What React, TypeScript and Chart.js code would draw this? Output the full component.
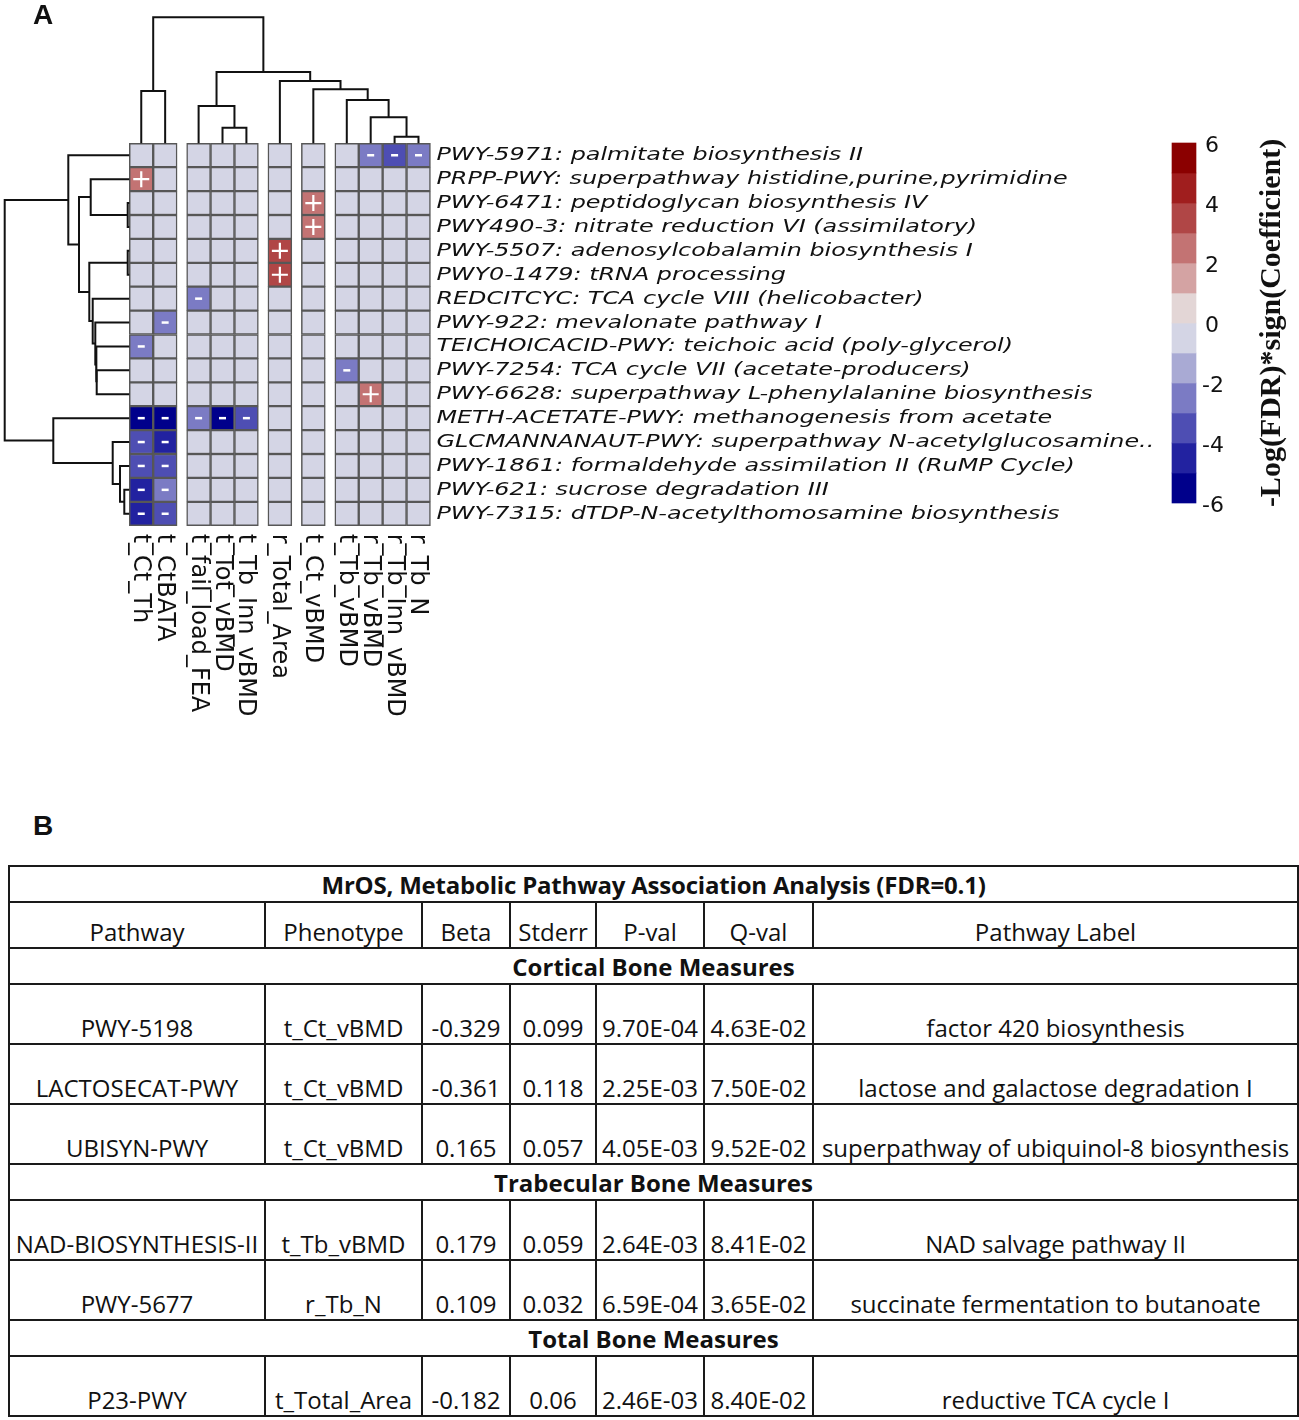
import React, { useEffect, useRef } from 'react';
import { Chart, registerables } from 'chart.js';

Chart.register(...registerables);

// ---------------- Panel A data ----------------
const columnLabels = [
  't_Ct_Th', 't_CtBATA', 't_fail_load_FEA', 't_Tot_vBMD', 't_Tb_Inn_vBMD',
  'r_Total_Area', 't_Ct_vBMD', 't_Tb_vBMD', 'r_Tb_vBMD', 'r_Tb_Inn_vBMD', 'r_Tb_N',
];
const columnGroups = [0, 0, 1, 1, 1, 2, 3, 4, 4, 4, 4];

const rowLabels = [
  'PWY-5971: palmitate biosynthesis II',
  'PRPP-PWY: superpathway histidine,purine,pyrimidine',
  'PWY-6471: peptidoglycan biosynthesis IV',
  'PWY490-3: nitrate reduction VI (assimilatory)',
  'PWY-5507: adenosylcobalamin biosynthesis I',
  'PWY0-1479: tRNA processing',
  'REDCITCYC: TCA cycle VIII (helicobacter)',
  'PWY-922: mevalonate pathway I',
  'TEICHOICACID-PWY: teichoic acid (poly-glycerol)',
  'PWY-7254: TCA cycle VII (acetate-producers)',
  'PWY-6628: superpathway L-phenylalanine biosynthesis',
  'METH-ACETATE-PWY: methanogenesis from acetate',
  'GLCMANNANAUT-PWY: superpathway N-acetylglucosamine..',
  'PWY-1861: formaldehyde assimilation II (RuMP Cycle)',
  'PWY-621: sucrose degradation III',
  'PWY-7315: dTDP-N-acetylthomosamine biosynthesis',
];

// -Log(FDR)*sign(Coefficient); 0 = not significant
const heatValues = [
  [0, 0, 0, 0, 0, 0, 0, 0, -2.5, -3.5, -2.5],
  [2.5, 0, 0, 0, 0, 0, 0, 0, 0, 0, 0],
  [0, 0, 0, 0, 0, 0, 2.5, 0, 0, 0, 0],
  [0, 0, 0, 0, 0, 0, 2.5, 0, 0, 0, 0],
  [0, 0, 0, 0, 0, 3.5, 0, 0, 0, 0, 0],
  [0, 0, 0, 0, 0, 3.5, 0, 0, 0, 0, 0],
  [0, 0, -2.5, 0, 0, 0, 0, 0, 0, 0, 0],
  [0, -2.5, 0, 0, 0, 0, 0, 0, 0, 0, 0],
  [-2.5, 0, 0, 0, 0, 0, 0, 0, 0, 0, 0],
  [0, 0, 0, 0, 0, 0, 0, -2.5, 0, 0, 0],
  [0, 0, 0, 0, 0, 0, 0, 0, 2.5, 0, 0],
  [-5.5, -5.5, -2.5, -5.5, -3.5, 0, 0, 0, 0, 0, 0],
  [-3.5, -4.5, 0, 0, 0, 0, 0, 0, 0, 0, 0],
  [-3.5, -3.5, 0, 0, 0, 0, 0, 0, 0, 0, 0],
  [-4.5, -2.5, 0, 0, 0, 0, 0, 0, 0, 0, 0],
  [-4.5, -3.5, 0, 0, 0, 0, 0, 0, 0, 0, 0],
];

// column dendrogram: [childA, childB, height]; ids < 11 are leaves
const columnLinkage: [number, number, number][] = [
  [3, 4, 15.6],
  [9, 10, 6.6],
  [8, 12, 26],
  [2, 11, 37.3],
  [7, 13, 43.3],
  [0, 1, 52.3],
  [6, 15, 54],
  [5, 17, 62.3],
  [14, 18, 71.3],
  [16, 19, 126],
];

// row dendrogram: ids < 16 are leaves
const rowLinkage: [number, number, number][] = [
  [2, 3, 1.6],
  [4, 5, 1.6],
  [14, 15, 5],
  [13, 18, 9.3],
  [12, 19, 16.6],
  [9, 10, 32.6],
  [8, 21, 33.3],
  [7, 22, 34],
  [6, 23, 36.6],
  [1, 16, 38.6],
  [17, 24, 40],
  [25, 26, 50.3],
  [0, 27, 61],
  [11, 20, 76],
  [28, 29, 124.6],
];

const colorbarTicks = [6, 4, 2, 0, -2, -4, -6];
const colorbarBins = [-6, -5, -4, -3, -2, -1, 0, 1, 2, 3, 4, 5];
const binColors = [
  '#00008b', '#2222a0', '#4e4eb3', '#7b7bc4', '#a9aad4', '#d4d5e5',
  '#e3d6d6', '#d4a3a3', '#c37373', '#b04646', '#a01e1e', '#8b0000',
];
const colorbarTitle = '-Log(FDR)*sign(Coefficient)';

// ---------------- Panel B data ----------------
const tableTitle = 'MrOS, Metabolic Pathway Association Analysis (FDR=0.1)';
const tableHeaders = ['Pathway', 'Phenotype', 'Beta', 'Stderr', 'P-val', 'Q-val', 'Pathway Label'];
const sectionTitles = ['Cortical Bone Measures', 'Trabecular Bone Measures', 'Total Bone Measures'];
const pathwayIds = ['PWY-5198', 'LACTOSECAT-PWY', 'UBISYN-PWY', 'NAD-BIOSYNTHESIS-II', 'PWY-5677', 'P23-PWY'];
const phenotypes = ['t_Ct_vBMD', 't_Ct_vBMD', 't_Ct_vBMD', 't_Tb_vBMD', 'r_Tb_N', 't_Total_Area'];
const betas = ['-0.329', '-0.361', '0.165', '0.179', '0.109', '-0.182'];
const stderrs = ['0.099', '0.118', '0.057', '0.059', '0.032', '0.06'];
const pValues = ['9.70E-04', '2.25E-03', '4.05E-03', '2.64E-03', '6.59E-04', '2.46E-03'];
const qValues = ['4.63E-02', '7.50E-02', '9.52E-02', '8.41E-02', '3.65E-02', '8.40E-02'];
const pathwayNames = [
  'factor 420 biosynthesis',
  'lactose and galactose degradation I',
  'superpathway of ubiquinol-8 biosynthesis',
  'NAD salvage pathway II',
  'succinate fermentation to butanoate',
  'reductive TCA cycle I',
];
const rowSection = [0, 0, 0, 1, 1, 2];

// ---------------- layout constants ----------------
const W = 1299;
const H = 780;
const CELL = 23.9;
const HEAT_LEFT = 129.3;
const HEAT_TOP = 143.3;
const GROUP_GAP = 0.4;
const CB_TOP = 143;
const CB_UNIT = 30;
const CB_CENTER_PX = 1184;

const colPos = columnLabels.map((_, c) => c + 0.5 + columnGroups[c] * GROUP_GAP);
const heatRight = columnLabels.length + columnGroups[columnGroups.length - 1] * GROUP_GAP;

function binColor(v: number) {
  let i = Math.ceil(v + 6) - 1;
  if (i < 0) i = 0;
  if (i > 11) i = 11;
  return binColors[i];
}

function buildDendro(leafPos: number[], linkage: [number, number, number][]) {
  const n = leafPos.length;
  const pos = [...leafPos];
  const hts = leafPos.map(() => 0);
  const segs: { p: number; h: number }[][] = [];
  linkage.forEach(([a, b, h], i) => {
    const id = n + i;
    pos[id] = (pos[a] + pos[b]) / 2;
    hts[id] = h;
    segs.push([
      { p: pos[a], h: hts[a] },
      { p: pos[a], h },
      { p: pos[b], h },
      { p: pos[b], h: hts[b] },
    ]);
  });
  return segs;
}

const labelPlugin = {
  id: 'heatLabels',
  afterDatasetsDraw(chart: any) {
    const { ctx, scales } = chart;
    const x = scales.x;
    const y = scales.y;
    const yb = scales.yBar;
    ctx.save();
    ctx.fillStyle = '#111';

    // row labels
    const right = x.getPixelForValue(heatRight);
    ctx.font = 'italic 18.5px "DejaVu Sans"';
    ctx.textAlign = 'left';
    ctx.textBaseline = 'alphabetic';
    rowLabels.forEach((t, r) => {
      const py = y.getPixelForValue(r + 0.5);
      ctx.save();
      ctx.translate(right + 6, py + 5);
      ctx.scale(1.29, 1);
      ctx.fillText(t, 0, 0);
      ctx.restore();
    });

    // column labels
    const bottom = y.getPixelForValue(rowLabels.length);
    ctx.font = '24px "DejaVu Sans"';
    columnLabels.forEach((t, c) => {
      const px = x.getPixelForValue(colPos[c]);
      ctx.save();
      ctx.translate(px, bottom + 8);
      ctx.rotate(Math.PI / 2);
      ctx.fillText(t, 0, 7);
      ctx.restore();
    });

    // colorbar ticks
    const cbRight = CB_CENTER_PX + 12;
    ctx.font = '22px "DejaVu Sans"';
    ctx.textBaseline = 'middle';
    colorbarTicks.forEach((t) => {
      const py = yb.getPixelForValue(t);
      ctx.fillText(String(t), cbRight + (t < 0 ? 6 : 9), py + 3);
    });

    // colorbar title
    const cy = (yb.getPixelForValue(6) + yb.getPixelForValue(-6)) / 2;
    ctx.save();
    ctx.translate(1272, cy);
    ctx.rotate(-Math.PI / 2);
    ctx.font = 'bold 30px "Liberation Serif"';
    ctx.textAlign = 'center';
    ctx.textBaseline = 'middle';
    ctx.fillText(colorbarTitle, 0, 0);
    ctx.restore();

    ctx.restore();
  },
};

const hiddenLinear = (min: number, max: number, extra: any = {}) => ({
  type: 'linear',
  display: false,
  offset: false,
  bounds: 'data',
  grace: 0,
  grid: { offset: false },
  min,
  max,
  ...extra,
});

function HeatmapPanel() {
  const ref = useRef<HTMLCanvasElement | null>(null);
  useEffect(() => {
    if (!ref.current) return;
    const cells: any[] = [];
    const plus: any[] = [];
    const minus: any[] = [];
    heatValues.forEach((row, r) =>
      row.forEach((v, c) => {
        cells.push({ x: colPos[c], y: [r, r + 1], v });
        if (v > 0) plus.push({ x: colPos[c], y: r + 0.5 });
        if (v < 0) minus.push({ x: colPos[c], y: r + 0.5 });
      })
    );

    const topSegs = buildDendro(colPos, columnLinkage);
    const leftSegs = buildDendro(rowLabels.map((_, r) => r + 0.5), rowLinkage);

    const lineDs = (pts: any[], xAxisID: string, yAxisID: string) => ({
      type: 'scatter',
      data: pts,
      xAxisID,
      yAxisID,
      showLine: true,
      borderColor: '#111',
      borderWidth: 2,
      pointRadius: 0,
      fill: false,
      tension: 0,
      order: 1,
    });

    const datasets: any[] = [
      {
        type: 'scatter',
        data: plus,
        xAxisID: 'x',
        yAxisID: 'y',
        pointStyle: 'cross',
        radius: 8,
        borderColor: '#ffffff',
        borderWidth: 2.2,
        backgroundColor: '#ffffff',
        order: 0,
      },
      {
        type: 'scatter',
        data: minus,
        xAxisID: 'x',
        yAxisID: 'y',
        pointStyle: 'line',
        radius: 3.5,
        borderColor: '#ffffff',
        borderWidth: 2.5,
        order: 0,
      },
      {
        type: 'bar',
        data: cells,
        xAxisID: 'x',
        yAxisID: 'y',
        backgroundColor: (ctx: any) => binColor(ctx.raw ? ctx.raw.v : 0),
        borderColor: '#575757',
        borderWidth: 1.5,
        borderSkipped: false,
        grouped: false,
        barThickness: CELL,
        order: 2,
      },
      {
        type: 'bar',
        data: colorbarBins.map((lo) => ({ x: (CB_CENTER_PX - HEAT_LEFT) / CELL, y: [lo, lo + 1] })),
        xAxisID: 'x',
        yAxisID: 'yBar',
        backgroundColor: colorbarBins.map((_, i) => binColors[i]),
        borderWidth: 0,
        grouped: false,
        barThickness: 24,
        order: 2,
      },
      ...topSegs.map((s) => lineDs(s.map((p) => ({ x: p.p, y: p.h })), 'x', 'yTop')),
      // left dendrogram grows leftwards: height h is drawn at -h on the xLeft axis
      ...leftSegs.map((s) => lineDs(s.map((p) => ({ x: -p.h, y: p.p })), 'xLeft', 'y')),
    ];

    const chart = new Chart(ref.current, {
      type: 'bar',
      data: { datasets },
      options: {
        animation: false,
        responsive: false,
        devicePixelRatio: 1,
        events: [],
        layout: { padding: 0, autoPadding: false },
        plugins: { legend: { display: false }, tooltip: { enabled: false } },
        scales: {
          x: hiddenLinear(-HEAT_LEFT / CELL, (W - HEAT_LEFT) / CELL),
          y: hiddenLinear(-HEAT_TOP / CELL, (H - HEAT_TOP) / CELL, { reverse: true }),
          yTop: hiddenLinear(HEAT_TOP - H, HEAT_TOP),
          xLeft: hiddenLinear(-HEAT_LEFT, W - HEAT_LEFT),
          yBar: hiddenLinear(6 + CB_TOP / CB_UNIT - H / CB_UNIT, 6 + CB_TOP / CB_UNIT),
        },
      } as any,
      plugins: [labelPlugin],
    } as any);
    return () => chart.destroy();
  }, []);
  return (
    <canvas
      ref={ref}
      width={W}
      height={H}
      style={{ position: 'absolute', left: 0, top: 0, width: W, height: H }}
    />
  );
}

const colWidths = [256, 157, 88, 86, 108, 109, 485];
const tableFont = '"Open Sans", sans-serif';

function TablePanel() {
  const border = '2px solid #1a1a1a';
  const cell: React.CSSProperties = {
    border,
    padding: 0,
    textAlign: 'center',
    whiteSpace: 'nowrap',
    overflow: 'visible',
  };
  const rows: React.ReactNode[] = [];
  let lastSection = -1;
  pathwayIds.forEach((id, i) => {
    if (rowSection[i] !== lastSection) {
      lastSection = rowSection[i];
      rows.push(
        <tr key={'s' + i} style={{ height: 36 }}>
          <td colSpan={7} style={{ ...cell, fontWeight: 'bold', verticalAlign: 'middle' }}>
            {sectionTitles[rowSection[i]]}
          </td>
        </tr>
      );
    }
    const vals = [id, phenotypes[i], betas[i], stderrs[i], pValues[i], qValues[i], pathwayNames[i]];
    rows.push(
      <tr key={'r' + i} style={{ height: 60 }}>
        {vals.map((v, j) => (
          <td key={j} style={{ ...cell, verticalAlign: 'bottom', lineHeight: '30px' }}>
            {v}
          </td>
        ))}
      </tr>
    );
  });
  return (
    <table
      style={{
        position: 'absolute',
        left: 8,
        top: 865,
        width: 1289,
        borderCollapse: 'collapse',
        tableLayout: 'fixed',
        fontFamily: tableFont,
        fontSize: 24,
        color: '#111',
      }}
    >
      <colgroup>
        {colWidths.map((w, i) => (
          <col key={i} style={{ width: w }} />
        ))}
      </colgroup>
      <tbody>
        <tr style={{ height: 36 }}>
          <td
            colSpan={7}
            style={{ ...cell, fontWeight: 'bold', verticalAlign: 'middle', letterSpacing: '-0.2px' }}
          >
            {tableTitle}
          </td>
        </tr>
        <tr style={{ height: 46 }}>
          {tableHeaders.map((h, j) => (
            <td key={j} style={{ ...cell, verticalAlign: 'bottom', lineHeight: '30px' }}>
              {h}
            </td>
          ))}
        </tr>
        {rows}
      </tbody>
    </table>
  );
}

export default function App() {
  return (
    <div
      style={{
        position: 'absolute',
        left: 0,
        top: 0,
        width: 1299,
        height: 1420,
        background: '#ffffff',
        overflow: 'hidden',
      }}
    >
      <HeatmapPanel />
      <div
        style={{
          position: 'absolute',
          left: 33,
          top: -1,
          fontFamily: '"Liberation Sans", Arial, sans-serif',
          fontWeight: 'bold',
          fontSize: 28,
          color: '#111',
        }}
      >
        A
      </div>
      <div
        style={{
          position: 'absolute',
          left: 33,
          top: 810,
          fontFamily: '"Liberation Sans", Arial, sans-serif',
          fontWeight: 'bold',
          fontSize: 28,
          color: '#111',
        }}
      >
        B
      </div>
      <TablePanel />
    </div>
  );
}
